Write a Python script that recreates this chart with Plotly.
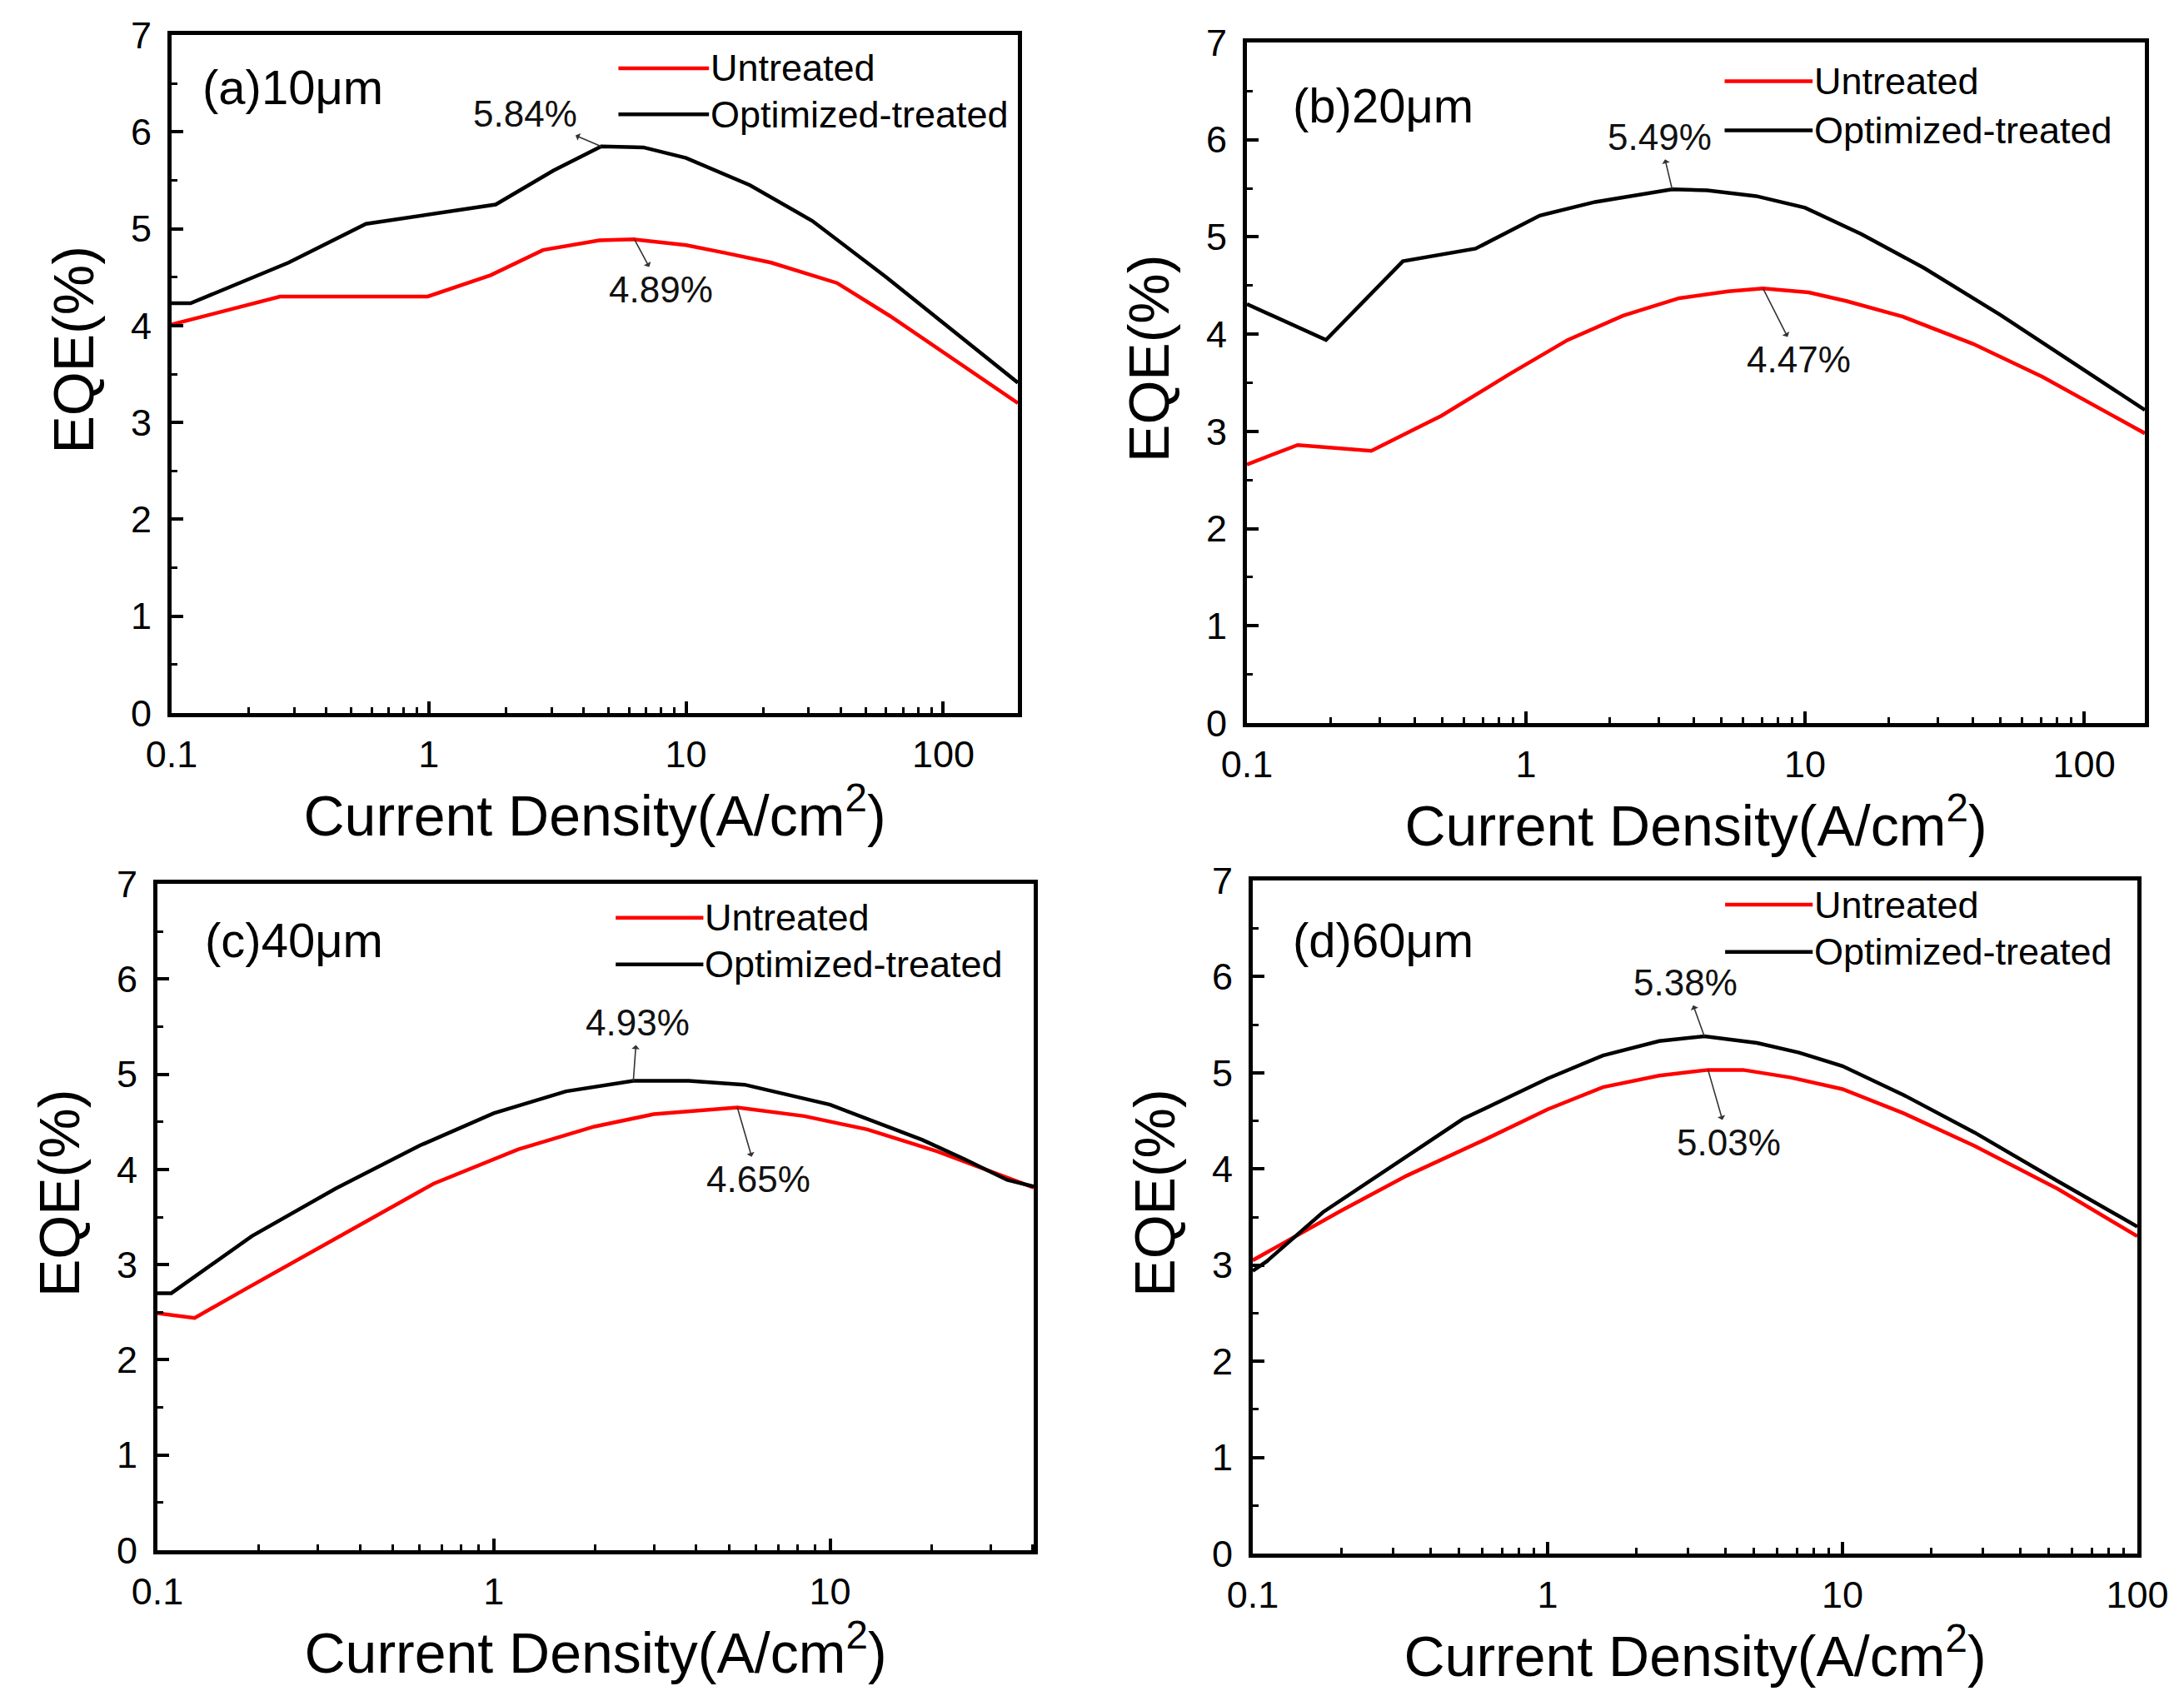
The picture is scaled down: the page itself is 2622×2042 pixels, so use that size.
import math
import plotly.graph_objects as go

# ---------------- data ----------------
# (a) 10 um
xa_u = [0.1, 0.264, 0.99, 1.74, 2.78, 4.6, 6.3, 10, 14.2, 21.4, 38.6, 62, 195]
ya_u = [4.01, 4.30, 4.30, 4.52, 4.78, 4.88, 4.89, 4.83, 4.75, 4.65, 4.44, 4.10, 3.20]
xa_t = [0.1, 0.1185, 0.285, 0.57, 1.82, 3.05, 4.68, 6.82, 10, 17.7, 31, 60, 195]
ya_t = [4.23, 4.23, 4.65, 5.05, 5.25, 5.60, 5.85, 5.84, 5.73, 5.45, 5.08, 4.50, 3.41]

# (b) 20 um
xb_u = [0.1, 0.152, 0.279, 0.497, 0.885, 1.41, 2.23, 3.54, 5.3, 7.07, 10.3, 14.1, 22.4, 40, 71, 165]
yb_u = [2.66, 2.86, 2.80, 3.16, 3.60, 3.94, 4.19, 4.37, 4.44, 4.47, 4.43, 4.34, 4.18, 3.90, 3.56, 2.98]
xb_t = [0.1, 0.192, 0.362, 0.66, 1.12, 1.77, 3.34, 4.46, 6.68, 10, 15.9, 26.7, 50, 165]
yb_t = [4.31, 3.94, 4.75, 4.88, 5.22, 5.36, 5.49, 5.48, 5.42, 5.30, 5.03, 4.68, 4.20, 3.22]

# (c) 40 um
xc_u = [0.1, 0.129, 0.182, 0.339, 0.662, 1.18, 1.99, 2.99, 5.3, 8.38, 12.9, 20.8, 30.5, 40.3]
yc_u = [2.49, 2.44, 2.74, 3.27, 3.85, 4.21, 4.45, 4.58, 4.65, 4.56, 4.42, 4.19, 3.97, 3.81]
xc_t = [0.1, 0.11, 0.191, 0.339, 0.602, 1.0, 1.64, 2.6, 3.8, 5.57, 10, 18.8, 25, 33.6, 40.3]
yc_t = [2.70, 2.70, 3.30, 3.80, 4.25, 4.59, 4.82, 4.93, 4.93, 4.89, 4.68, 4.31, 4.11, 3.89, 3.82]

# (d) 60 um
xd_u = [0.1, 0.131, 0.198, 0.333, 0.608, 1.0, 1.54, 2.39, 3.5, 4.6, 6.7, 10, 16.1, 28, 53.9, 100]
yd_u = [3.05, 3.25, 3.56, 3.93, 4.30, 4.62, 4.85, 4.97, 5.03, 5.03, 4.95, 4.83, 4.58, 4.24, 3.79, 3.30]
xd_t = [0.1, 0.1116, 0.173, 0.299, 0.516, 1.0, 1.54, 2.39, 3.4, 5.13, 7.12, 10, 16.1, 28, 53.9, 100]
yd_t = [2.94, 3.04, 3.55, 4.03, 4.52, 4.94, 5.18, 5.33, 5.38, 5.31, 5.21, 5.07, 4.77, 4.38, 3.87, 3.40]

panel_labels = ["(a)10μm", "(b)20μm", "(c)40μm", "(d)60μm"]
x_max = [195, 165, 40.3, 100]
peak_labels_t = ["5.84%", "5.49%", "4.93%", "5.38%"]
peak_labels_u = ["4.89%", "4.47%", "4.65%", "5.03%"]
peak_idx_t = [6, 6, 7, 8]
peak_idx_u = [6, 9, 8, 8]
series_names = ["Untreated", "Optimized-treated"]
x_ticks = [0.1, 1, 10, 100]
x_ticktext = ["0.1", "1", "10", "100"]
y_ticks = [0, 1, 2, 3, 4, 5, 6, 7]
x_title = "Current Density(A/cm<sup>2</sup>)"
y_title = "EQE(%)"

# ---------------- layout geometry / style ----------------
W, H = 2622, 2042
FONT = "Liberation Sans, Arial, sans-serif"
RED = "#ff0000"
BLACK = "#000000"

# plot areas in pixels: left, right, top, bottom
boxes = [
    (206, 1222, 42, 856),
    (1497, 2575, 51, 868),
    (189, 1241, 1061, 1861),
    (1504, 2566, 1057, 1865),
]
# legend: line x0,x1 (domain frac), y untreated, y treated (domain frac)
legend_pos = [
    (0.528, 0.635, 0.951, 0.883),
    (0.532, 0.630, 0.943, 0.871),
    (0.523, 0.623, 0.949, 0.879),
    (0.534, 0.633, 0.964, 0.894),
]
label_pos = [(0.034, 0.923), (0.049, 0.907), (0.052, 0.916), (0.043, 0.912)]
# text offsets (px) relative to the peak points; arrows run from the peak to the text
text_t = [(-91, -39), (-15, -63), (5, -70), (-23, -64)]
text_u = [(32, 60), (43, 85), (25, 86), (25, 87)]

data = [
    (xa_u, ya_u, xa_t, ya_t),
    (xb_u, yb_u, xb_t, yb_t),
    (xc_u, yc_u, xc_t, yc_t),
    (xd_u, yd_u, xd_t, yd_t),
]

fig = go.Figure()
annotations = []
shapes = []
layout = dict(
    width=W, height=H, autosize=False,
    margin=dict(l=0, r=0, t=0, b=0, pad=0),
    paper_bgcolor="white", plot_bgcolor="white",
    showlegend=False,
    font=dict(family=FONT, color="black"),
)

for i, (xu, yu, xt, yt) in enumerate(data):
    n = "" if i == 0 else str(i + 1)
    xa, ya = "x" + n, "y" + n
    L, R, T, B = boxes[i]
    fig.add_trace(go.Scatter(x=xu, y=yu, mode="lines", name=series_names[0],
                             line=dict(color=RED, width=4.5), xaxis=xa, yaxis=ya))
    fig.add_trace(go.Scatter(x=xt, y=yt, mode="lines", name=series_names[1],
                             line=dict(color=BLACK, width=4.5), xaxis=xa, yaxis=ya))

    layout["xaxis" + n] = dict(
        type="log", range=[-1, math.log10(x_max[i])],
        domain=[L / W, R / W], anchor=ya,
        tickmode="array", tickvals=[v for v in x_ticks if v <= x_max[i]],
        ticktext=[t for v, t in zip(x_ticks, x_ticktext) if v <= x_max[i]],
        ticks="inside", ticklen=14, tickwidth=4, tickcolor="black",
        minor=dict(ticks="inside", ticklen=7, tickwidth=3, tickcolor="black", dtick="D1", showgrid=False),
        showline=True, linewidth=5, linecolor="black", mirror=True,
        showgrid=False, zeroline=False,
        tickfont=dict(size=45, family=FONT, color="black"),
        ticklabelstandoff=6,
        title=dict(text=x_title, standoff=13, font=dict(size=68, family=FONT, color="black")),
        automargin=False,
    )
    layout["yaxis" + n] = dict(
        range=[0, 7], domain=[1 - B / H, 1 - T / H], anchor=xa,
        tickmode="array", tickvals=y_ticks,
        ticks="inside", ticklen=14, tickwidth=4, tickcolor="black",
        minor=dict(ticks="inside", ticklen=7, tickwidth=3, tickcolor="black", dtick=0.5, showgrid=False),
        showline=True, linewidth=5, linecolor="black", mirror=True,
        showgrid=False, zeroline=False,
        tickfont=dict(size=45, family=FONT, color="black"),
        ticklabelstandoff=10,
        automargin=False,
    )

    dx, dy = xa + " domain", ya + " domain"
    pw = R - L
    # y-axis title (placed like the reference: slightly above the middle)
    annotations.append(dict(text=y_title, xref=dx, yref=dy, x=-118 / pw, y=0.535,
                            xanchor="center", yanchor="middle", textangle=-90, showarrow=False,
                            font=dict(size=68, family=FONT, color="black")))
    # panel label
    lx, ly = label_pos[i]
    annotations.append(dict(text=panel_labels[i], xref=dx, yref=dy, x=lx, y=ly,
                            xanchor="left", yanchor="middle", showarrow=False,
                            font=dict(size=58, family=FONT, color="black")))
    # legend (drawn by hand, Origin style)
    x0, x1, yu_l, yt_l = legend_pos[i]
    for yy, col, name in [(yu_l, RED, series_names[0]), (yt_l, BLACK, series_names[1])]:
        shapes.append(dict(type="line", xref=dx, yref=dy, x0=x0, x1=x1, y0=yy, y1=yy,
                           line=dict(color=col, width=4.5)))
        annotations.append(dict(text=name, xref=dx, yref=dy, x=x1, y=yy,
                                xanchor="left", yanchor="middle", showarrow=False,
                                font=dict(size=45, family=FONT, color="black")))
    # peak annotations: label with a thin arrow from the curve towards the label
    for xs, ys, idx, lab, tx in [
        (xt, yt, peak_idx_t[i], peak_labels_t[i], text_t[i]),
        (xu, yu, peak_idx_u[i], peak_labels_u[i], text_u[i]),
    ]:
        px, py = math.log10(xs[idx]), ys[idx]
        annotations.append(dict(text=lab, x=px, y=py, xref=xa, yref=ya,
                                ax=tx[0], ay=tx[1], showarrow=True, arrowside="start",
                                arrowhead=2, arrowsize=1.5, arrowwidth=1.6,
                                arrowcolor="#333333", startstandoff=2, borderpad=0,
                                font=dict(size=44, family=FONT, color="#111111")))

layout["annotations"] = annotations
layout["shapes"] = shapes
fig.update_layout(**layout)
fig.write_html(
    "out.html",
    config={"displayModeBar": False},
    post_script="document.body.style.margin='0';document.body.style.overflow='hidden';",
)
